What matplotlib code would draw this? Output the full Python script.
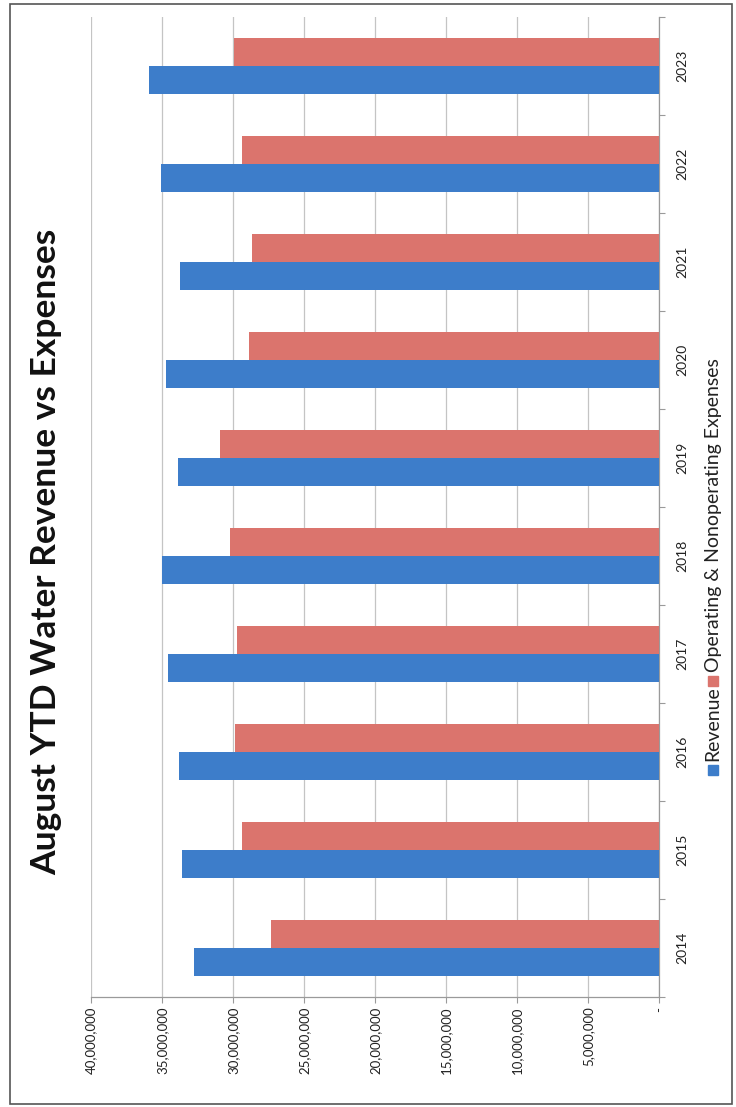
import matplotlib
matplotlib.use("Agg")
import matplotlib.pyplot as plt
import numpy as np
from matplotlib.patches import Rectangle
from matplotlib.ticker import FuncFormatter, FixedLocator

plt.rcParams['font.family'] = ['Lato', 'DejaVu Sans']

years = ["2014", "2015", "2016", "2017", "2018", "2019", "2020", "2021", "2022", "2023"]
revenue = [32750000, 33600000, 33800000, 34600000, 35000000,
           33900000, 34750000, 33750000, 35050000, 35900000]
expenses = [27300000, 29400000, 29900000, 29700000, 30250000,
            30950000, 28900000, 28700000, 29350000, 29950000]
value_ticks = [0, 5000000, 10000000, 15000000, 20000000,
               25000000, 30000000, 35000000, 40000000]
title = "August YTD Water Revenue vs Expenses"
series_names = ["Revenue", "Operating & Nonoperating Expenses"]

BLUE = "#3d7dca"
RED = "#db746d"
GRID = "#c4c4c4"
AXIS = "#9a9a9a"

W, H = 736, 1107
fig = plt.figure(figsize=(W / 100, H / 100), dpi=100)
fig.patch.set_facecolor("white")

# plot area in pixel terms
left_px, right_px, top_px, bottom_px = 91, 659.5, 17, 997
ax = fig.add_axes([left_px / W, 1 - bottom_px / H,
                   (right_px - left_px) / W, (bottom_px - top_px) / H])

pos = np.arange(len(years))
bh = 0.286
ax.barh(pos - bh / 2, revenue, height=bh, color=BLUE, zorder=3)
ax.barh(pos + bh / 2, expenses, height=bh, color=RED, zorder=3)

ax.set_xlim(40000000, 0)
ax.set_ylim(-0.5, len(years) - 0.5)

# value axis along the bottom
ax.xaxis.set_major_locator(FixedLocator(value_ticks))
ax.xaxis.set_major_formatter(FuncFormatter(lambda v, _: "-" if v == 0 else f"{int(v):,}"))
ax.tick_params(axis="x", direction="out", length=4, width=0.8, color=AXIS,
               labelsize=9.5, labelrotation=90, pad=3, labelcolor="#222222")
for lbl in ax.get_xticklabels():
    lbl.set_verticalalignment("top")
    lbl.set_horizontalalignment("center")
ax.grid(axis="x", color=GRID, linewidth=0.9, zorder=0)

# category axis on the right
ax.yaxis.tick_right()
ax.set_yticks(pos)
ax.set_yticklabels(years)
ax.set_yticks(np.arange(len(years) + 1) - 0.5, minor=True)
ax.tick_params(axis="y", which="major", length=0, labelsize=10, pad=12,
               labelrotation=90, labelcolor="#222222")
ax.tick_params(axis="y", which="minor", direction="out", length=4,
               width=0.8, color=AXIS)
for lbl in ax.get_yticklabels():
    lbl.set_verticalalignment("center")

for side in ("top", "left"):
    ax.spines[side].set_visible(False)
for side in ("bottom", "right"):
    ax.spines[side].set_color(AXIS)
    ax.spines[side].set_linewidth(0.9)
ax.set_facecolor("none")

# title, reading upward along the left edge
fig.text(46 / W, 1 - 552 / H, title, rotation=90, ha="center", va="center",
         fontsize=25.5, fontweight="bold", color="#111111")

# legend drawn upward along the right edge
sq = 10
lx = 713
fig.add_artist(Rectangle(((lx - sq / 2) / W, 1 - (770 + sq / 2) / H), sq / W, sq / H,
                         transform=fig.transFigure, color=BLUE))
fig.text(lx / W, 1 - 761 / H, series_names[0], rotation=90, ha="center", va="bottom",
         fontsize=14, color="#222222")
fig.add_artist(Rectangle(((lx - sq / 2) / W, 1 - (681 + sq / 2) / H), sq / W, sq / H,
                         transform=fig.transFigure, color=RED))
fig.text(lx / W, 1 - 672 / H, series_names[1], rotation=90, ha="center", va="bottom",
         fontsize=14, color="#222222")

# page frame
fig.add_artist(Rectangle((10 / W, 3 / H), 722 / W, 1100 / H, transform=fig.transFigure,
                         fill=False, edgecolor="#555555", linewidth=1.2))

fig.savefig("out.png", dpi=100)
